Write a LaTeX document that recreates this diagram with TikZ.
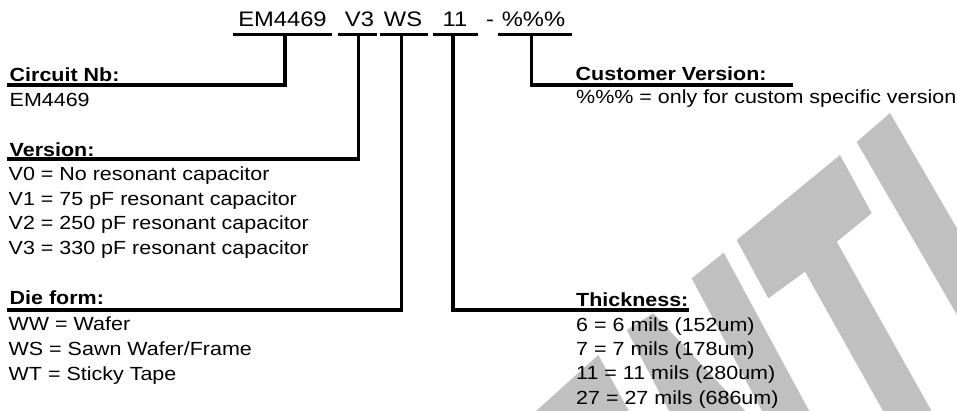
\documentclass[tikz,border=0pt]{standalone}
\usepackage{fontspec}
\setmainfont{Liberation Sans}[FakeStretch=1.13]
\definecolor{wm}{RGB}{192,192,192}
\tikzset{
  lbl/.style={anchor=base west, inner sep=0pt, font=\fontsize{19}{22}\selectfont},
  hd/.style={anchor=base west, inner sep=0pt, font=\fontsize{19}{22}\selectfont\bfseries},
  code/.style={anchor=base, inner sep=0pt, font=\fontsize{21}{24}\selectfont},
  conn/.style={line width=3.2pt, line join=miter},
  uline/.style={line width=3pt},
  wmark/.style={fill=wm, draw=none}
}
\begin{document}
\begin{tikzpicture}[x=1pt,y=-1pt]
\useasboundingbox (0,0) rectangle (957,411);
% watermark fragments
\begin{scope}
\clip (0,0) rectangle (957,411);
\fill[wmark] (856.7,142) -- (890,113) -- (1122,513) -- (1072,513) -- cycle;
\fill[wmark] (736.7,240) -- (840,155) -- (871.7,213.3) -- (836.7,241.7) -- (988.6,513) -- (940.1,513) -- (805,271.7) -- (768.3,298.3) -- cycle;
\fill[wmark] (691.7,278.3) -- (723.7,252.7) -- (864.3,513) -- (816.1,513) -- cycle;
\fill[wmark] (626.7,330) -- (653.3,313.3) -- (765,432) -- (680,432) -- cycle;
\fill[wmark] (598.3,355) -- (631,415) -- (531.6,415) -- cycle;
\end{scope}
% part number
\node[code] (t1) at (282.5,26.7) {EM4469};
\node[code] (t2) at (359.5,26.7) {V3};
\node[code] (t3) at (403,26.7) {WS};
\node[code] (t4) at (455,26.7) {11};
\node[code] (t5) at (490,26.7) {-};
\node[code] (t6) at (533.5,26.7) {\%\%\%};
% underline ends
\coordinate (u1a) at (233,35); \coordinate (u1b) at (332,35);
\coordinate (u2a) at (338,35); \coordinate (u2b) at (377,35);
\coordinate (u3a) at (380,35); \coordinate (u3b) at (428,35);
\coordinate (u4a) at (433,35); \coordinate (u4b) at (478,35);
\coordinate (u6a) at (498,35); \coordinate (u6b) at (572,35);
\draw[uline] (u1a) -- (u1b);
\draw[uline] (u2a) -- (u2b);
\draw[uline] (u3a) -- (u3b);
\draw[uline] (u4a) -- (u4b);
\draw[uline] (u6a) -- (u6b);
% stems
\coordinate (s1) at (285,35);
\coordinate (s2) at (358.5,35);
\coordinate (s3) at (401.5,35);
\coordinate (s4) at (453,35);
\coordinate (s6) at (531.5,35);
% label line ends
\coordinate (e1) at (7,85);
\coordinate (e2) at (7,159);
\coordinate (e3) at (7,310);
\coordinate (e4) at (689,310);
\coordinate (e6) at (793,85);
\draw[conn] (s1) |- (e1);
\draw[conn] (s2) |- (e2);
\draw[conn] (s3) |- (e3);
\draw[conn] (s4) |- (e4);
\draw[conn] (s6) |- (e6);
% left labels
\node[hd] (cn) at (9.5,81.5) {Circuit Nb:};
\node[lbl] (cnv) at (9.5,106.7) {EM4469};
\node[hd] (ver) at (9.5,156.7) {Version:};
\node[lbl] (v0) at (8.5,180.7) {V0 = No resonant capacitor};
\node[lbl] (v1) at (8.5,205.3) {V1 = 75 pF resonant capacitor};
\node[lbl] (v2) at (8.5,230) {V2 = 250 pF resonant capacitor};
\node[lbl] (v3) at (8.5,254.7) {V3 = 330 pF resonant capacitor};
\node[hd] (df) at (9.5,305) {Die form:};
\node[lbl] (ww) at (8.5,330) {WW = Wafer};
\node[lbl] (wsv) at (8.5,355) {WS = Sawn Wafer/Frame};
\node[lbl] (wt) at (8.5,380) {WT = Sticky Tape};
% right labels
\node[hd] (cv) at (575.5,80.5) {Customer Version:};
\node[lbl] (cvv) at (576,103.5) {\%\%\% = only for custom specific version};
\node[hd] (th) at (576,306) {Thickness:};
\node[lbl] (th6) at (576,331) {6 = 6 mils (152um)};
\node[lbl] (th7) at (576,355.3) {7 = 7 mils (178um)};
\node[lbl] (th11) at (576,379.7) {11 = 11 mils (280um)};
\node[lbl] (th27) at (576,404) {27 = 27 mils (686um)};
\end{tikzpicture}
\end{document}
